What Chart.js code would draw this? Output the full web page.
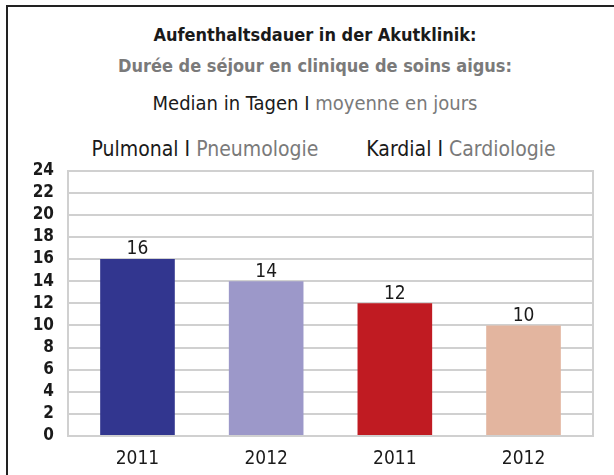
<!DOCTYPE html>
<html>
<head>
<meta charset="utf-8">
<script src="https://cdn.jsdelivr.net/npm/chart.js@4"></script>
<style>
  html, body { margin: 0; padding: 0; background: #fff; }
  body { width: 614px; height: 475px; position: relative; overflow: hidden;
         font-family: "DejaVu Sans Condensed", "Liberation Sans", sans-serif; }
  .frame { position: absolute; left: 6px; top: 5px; width: 700px; height: 520px;
           border: 2px solid #222; box-sizing: border-box; }
  .line { position: absolute; white-space: nowrap; transform: translateX(-50%); }
  .dark { color: #1a1a1a; }
  .grey { color: #7a7a7a; }
  #wrap { position: absolute; left: 0; top: 148px; width: 614px; height: 327px; }
</style>
</head>
<body>
<div class="frame"></div>
<div class="line dark" style="left:315px; top:24px; font-size:18px; font-weight:bold;">Aufenthaltsdauer in der Akutklinik:</div>
<div class="line grey" style="left:315px; top:55px; font-size:18px; font-weight:bold;">Durée de séjour en clinique de soins aigus:</div>
<div class="line" style="left:315px; top:91px; font-size:20px;"><span class="dark">Median in Tagen I</span> <span class="grey">moyenne en jours</span></div>
<div class="line" style="left:205px; top:137px; font-size:21px;"><span class="dark">Pulmonal I</span> <span class="grey">Pneumologie</span></div>
<div class="line" style="left:461px; top:137px; font-size:21px;"><span class="dark">Kardial I</span> <span class="grey">Cardiologie</span></div>
<div id="wrap"><canvas id="chart"></canvas></div>
<script>
  const years = ['2011', '2012', '2011', '2012'];
  const medianDays = [16, 14, 12, 10];
  const barColors = ['#32368f', '#9c98c9', '#c01b22', '#e3b59f'];
  const yTicks = [0, 2, 4, 6, 8, 10, 12, 14, 16, 18, 20, 22, 24];

  const font = '"DejaVu Sans Condensed", "Liberation Sans", sans-serif';

  // value printed above each bar
  const valueLabels = {
    id: 'valueLabels',
    afterDatasetsDraw(chart) {
      const ctx = chart.ctx;
      const meta = chart.getDatasetMeta(0);
      ctx.save();
      ctx.font = '19px ' + font;
      ctx.fillStyle = '#1a1a1a';
      ctx.textAlign = 'center';
      ctx.textBaseline = 'bottom';
      meta.data.forEach((bar, i) => {
        ctx.fillText(String(medianDays[i]), bar.x, bar.y);
      });
      ctx.restore();
    }
  };

  new Chart(document.getElementById('chart'), {
    type: 'bar',
    data: {
      datasets: [{
        data: medianDays.map((v, i) => ({ x: i, y: v })),
        backgroundColor: barColors,
        borderWidth: 0,
        categoryPercentage: 0.58,
        barPercentage: 1
      }]
    },
    options: {
      responsive: true,
      maintainAspectRatio: false,
      animation: false,
      layout: { padding: { top: 10, left: 0, right: 0, bottom: 0 } },
      plugins: { legend: { display: false }, tooltip: { enabled: false } },
      scales: {
        x: {
          type: 'linear',
          offset: false,
          min: -0.54,
          max: 3.54,
          afterBuildTicks: s => { s.ticks = years.map((_, i) => ({ value: i })); },
          grid: { display: false },
          border: { display: false },
          ticks: { color: '#1a1a1a', font: { family: font, size: 19 }, padding: 4,
                   callback: v => years[v] },
          afterFit: s => { s.height = 39; }
        },
        y: {
          min: 0,
          max: 24,
          afterBuildTicks: s => { s.ticks = yTicks.map(v => ({ value: v })); },
          grid: { color: '#d0d0d0', lineWidth: 2, drawTicks: false },
          border: { color: '#d0d0d0', width: 2 },
          ticks: { color: '#1a1a1a', font: { family: font, size: 17, weight: 'bold', lineHeight: 1 },
                   padding: 14, autoSkip: false },
          afterFit: s => { s.width = 68; }
        },
        y2: {
          position: 'right',
          min: 0,
          max: 24,
          grid: { display: false },
          border: { color: '#d0d0d0', width: 2 },
          ticks: { display: false },
          afterFit: s => { s.width = 21; }
        }
      }
    },
    plugins: [valueLabels]
  });
</script>
</body>
</html>
